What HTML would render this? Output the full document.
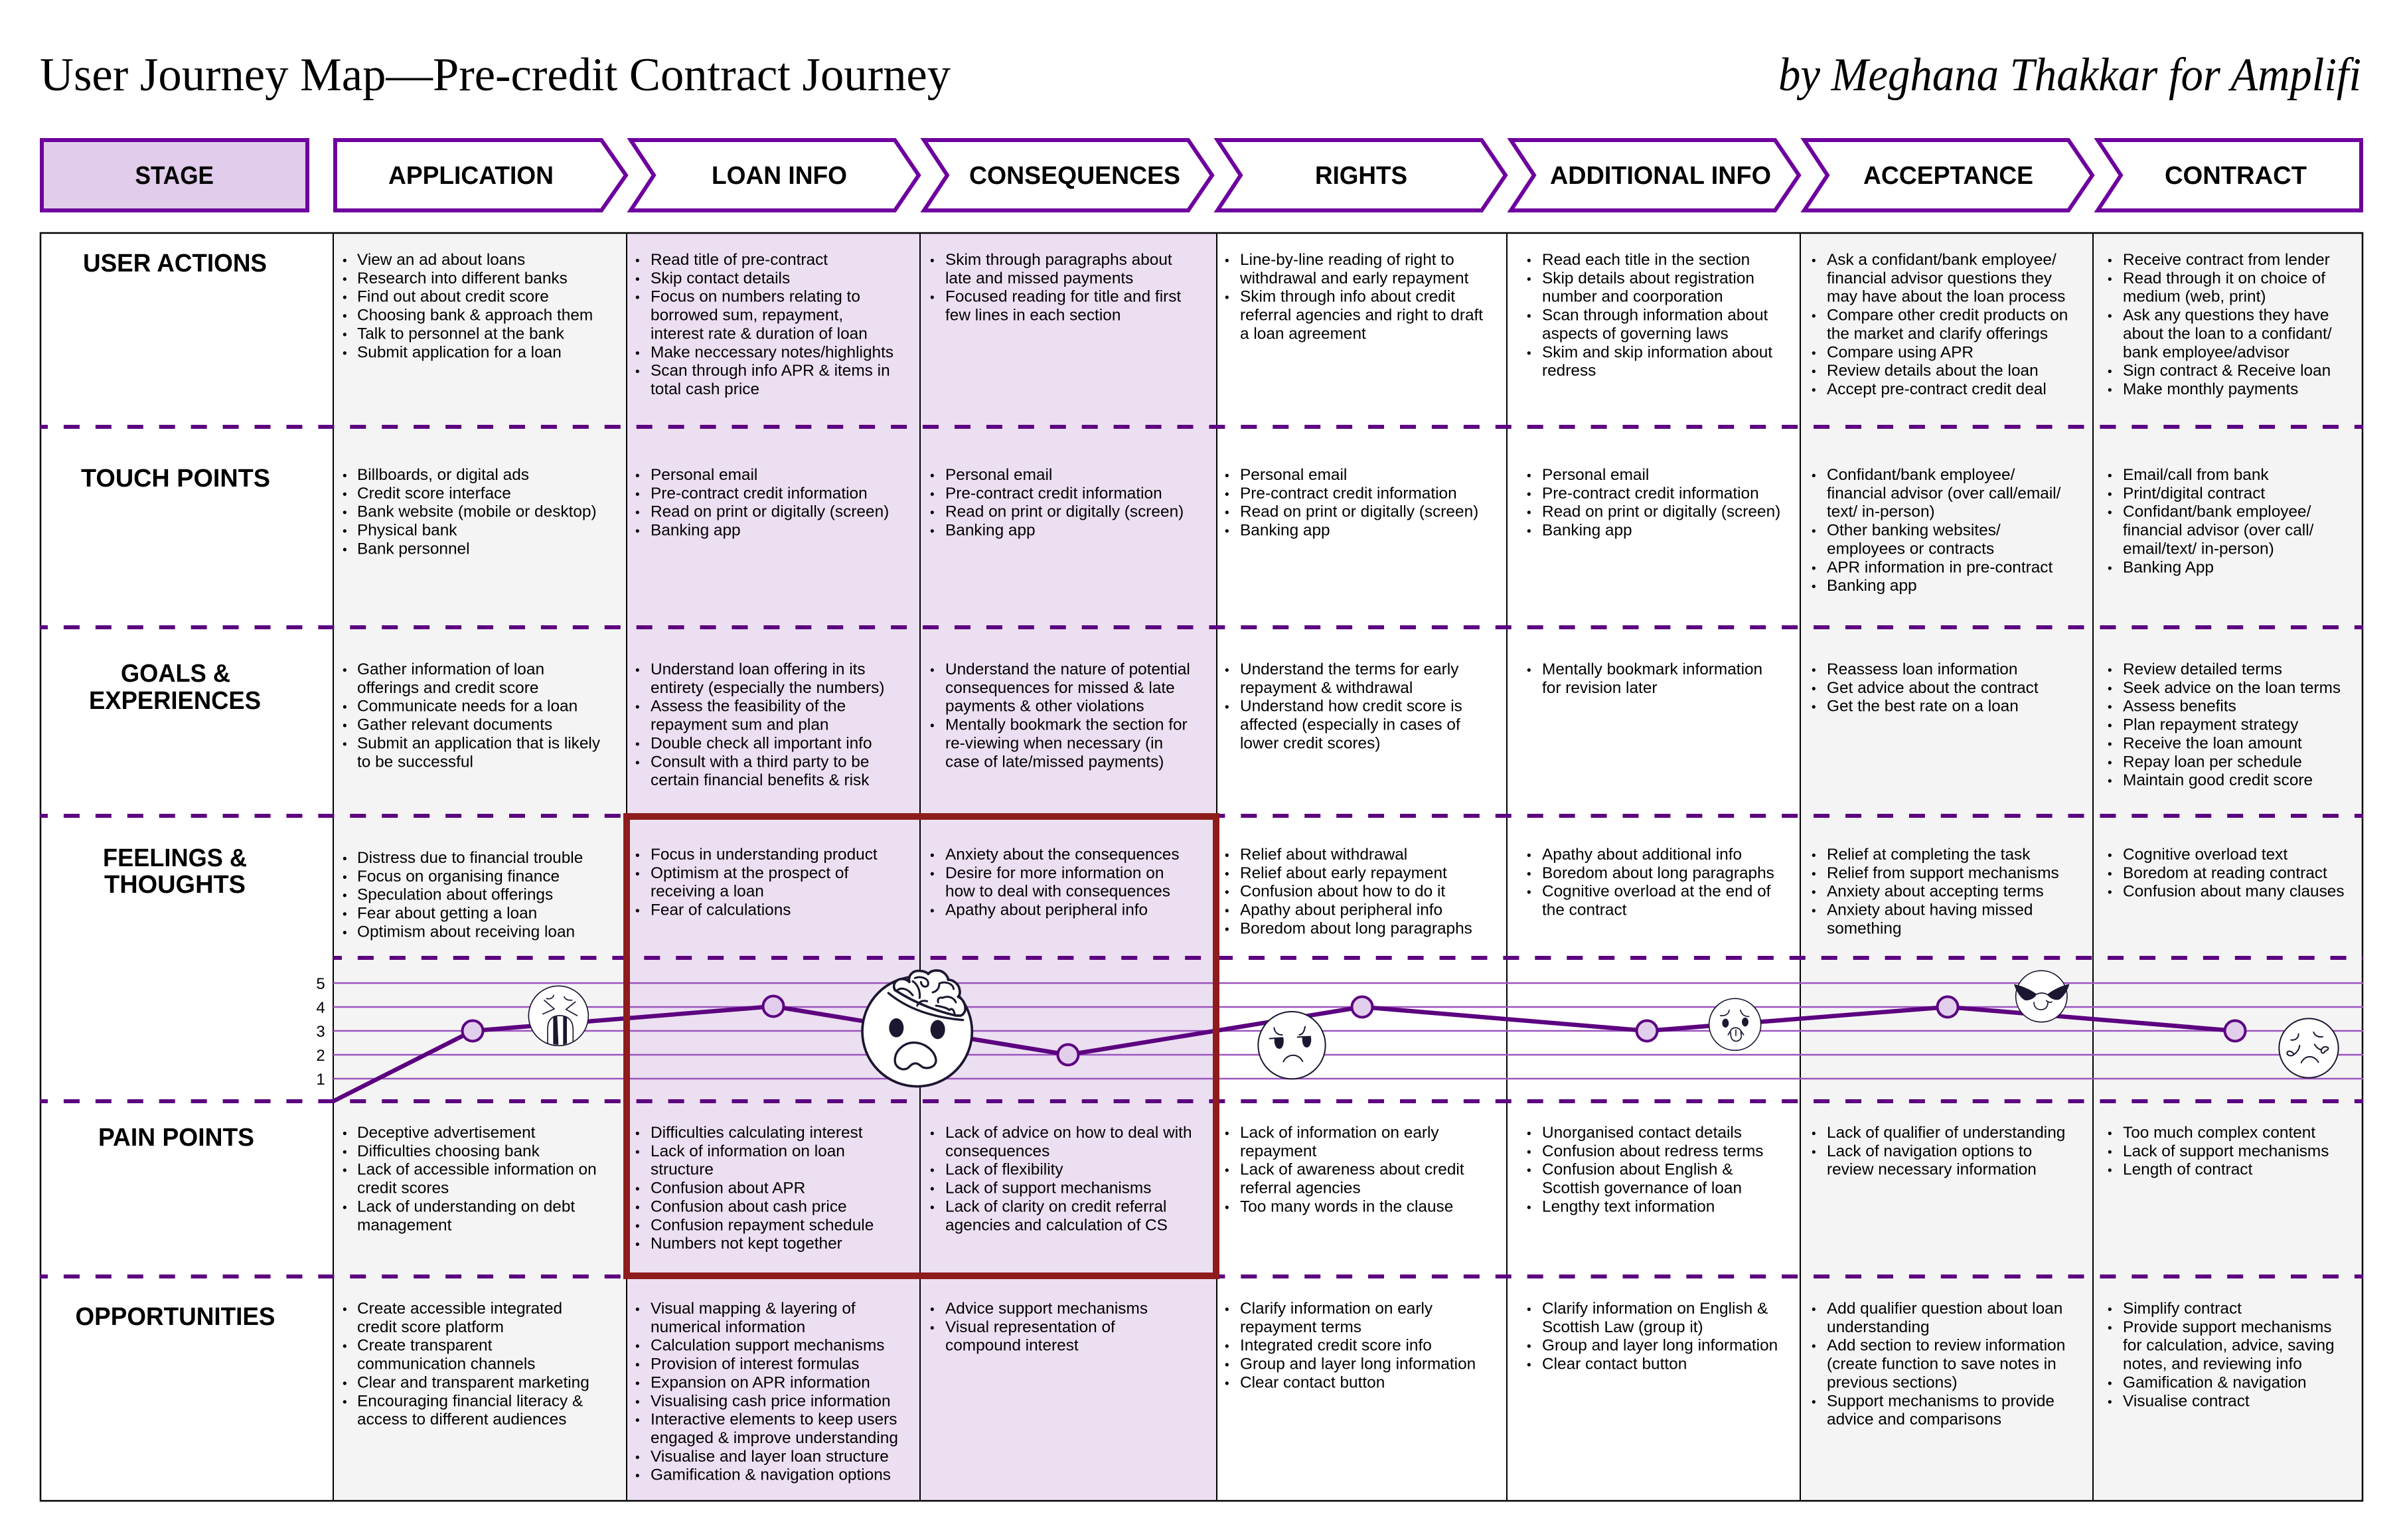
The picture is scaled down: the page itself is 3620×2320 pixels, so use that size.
<!DOCTYPE html>
<html lang="en"><head><meta charset="utf-8"><title>User Journey Map</title>
<style>
html,body{margin:0;padding:0;background:#fff;width:3620px;height:2320px;overflow:hidden}
svg{display:block}
text{font-family:"Liberation Sans",sans-serif;fill:#000}
.t{font-size:24.4px}
.t tspan[x="516"],.t tspan[x="957"],.t tspan[x="1401"],.t tspan[x="1845"],.t tspan[x="2300"],.t tspan[x="2729"],.t tspan[x="3175"]{font-size:19px}
.h{font-size:38px;font-weight:bold}
.s{font-size:71px;font-family:"Liberation Serif",serif}
.n{font-size:24px}
.d{fill:none;stroke:#5c0080;stroke-width:6;stroke-dasharray:24 23.93}
.c{fill:#fff;stroke:#6e009e;stroke-width:6;stroke-miterlimit:10}
.g{stroke:#9c55bf;stroke-width:2.4}
.f{fill:none;stroke:#1c1630;stroke-linecap:round;stroke-linejoin:round}
.k{fill:#1c1630;stroke:none}
.w{fill:#fff}
.o{fill:#e1cdec;stroke:#5c0080;stroke-width:4}
</style></head><body>
<svg xmlns="http://www.w3.org/2000/svg" width="3620" height="2320" viewBox="0 0 3620 2320">
<rect width="3620" height="2320" fill="#fff"/>
<text class="s" x="60" y="136" textLength="1372" lengthAdjust="spacingAndGlyphs">User Journey Map—Pre-credit Contract Journey</text>
<text class="s" x="2679" y="136" textLength="878" lengthAdjust="spacingAndGlyphs" font-style="italic">by Meghana Thakkar for Amplifi</text>

<!-- stage header -->
<rect x="63" y="211" width="400" height="106" fill="#e1cdeb" stroke="#6e009e" stroke-width="6"/>
<polygon class="c" points="505,211 906,211 943,264 906,317 505,317"/>
<polygon class="c" points="950,211 1348,211 1384,264 1348,317 950,317 985,264"/>
<polygon class="c" points="1392,211 1790,211 1826,264 1790,317 1392,317 1427,264"/>
<polygon class="c" points="1834,211 2232,211 2268,264 2232,317 1834,317 1869,264"/>
<polygon class="c" points="2276,211 2674,211 2710,264 2674,317 2276,317 2311,264"/>
<polygon class="c" points="2718,211 3116,211 3152,264 3116,317 2718,317 2753,264"/>
<polygon class="c" points="3160,211 3557,211 3557,317 3160,317 3195,264"/>
<g class="h" transform="translate(0,-1)">
<text x="203.5" y="278" textLength="118.5" lengthAdjust="spacingAndGlyphs">STAGE</text>
<text x="585" y="278" textLength="249" lengthAdjust="spacingAndGlyphs">APPLICATION</text>
<text x="1072" y="278" textLength="204" lengthAdjust="spacingAndGlyphs">LOAN INFO</text>
<text x="1460" y="278" textLength="318" lengthAdjust="spacingAndGlyphs">CONSEQUENCES</text>
<text x="1981" y="278" textLength="139" lengthAdjust="spacingAndGlyphs">RIGHTS</text>
<text x="2335" y="278" textLength="333" lengthAdjust="spacingAndGlyphs">ADDITIONAL INFO</text>
<text x="2807" y="278" textLength="256" lengthAdjust="spacingAndGlyphs">ACCEPTANCE</text>
<text x="3261" y="278" textLength="214" lengthAdjust="spacingAndGlyphs">CONTRACT</text>
</g>

<!-- table backgrounds -->
<rect x="502" y="350" width="442" height="1911" fill="#f4f4f4"/>
<rect x="944" y="350" width="888" height="1911" fill="#ecdff1"/>
<rect x="2712" y="350" width="848" height="1911" fill="#f4f4f4"/>
<!-- grid lines -->
<g stroke="#000" stroke-width="2">
<line x1="502" y1="350" x2="502" y2="2261"/><line x1="944" y1="350" x2="944" y2="2261"/><line x1="1386" y1="350" x2="1386" y2="2261"/><line x1="1833" y1="350" x2="1833" y2="2261"/><line x1="2270" y1="350" x2="2270" y2="2261"/><line x1="2712" y1="350" x2="2712" y2="2261"/><line x1="3153" y1="350" x2="3153" y2="2261"/>
</g>
<rect x="61" y="351" width="3498" height="1910" fill="none" stroke="#000" stroke-width="2.5"/>
<!-- dashed -->
<line class="d" x1="60" y1="643" x2="3560" y2="643" stroke-dashoffset="12"/>
<line class="d" x1="60" y1="945" x2="3560" y2="945" stroke-dashoffset="12"/>
<line class="d" x1="60" y1="1229" x2="3560" y2="1229" stroke-dashoffset="12"/>
<line class="d" x1="502" y1="1443" x2="3560" y2="1443" stroke-dashoffset="11"/>
<line class="d" x1="60" y1="1659" x2="3560" y2="1659" stroke-dashoffset="12"/>
<line class="d" x1="60" y1="1923" x2="3560" y2="1923" stroke-dashoffset="12"/>
<!-- chart -->
<g class="g"><line x1="502" y1="1481" x2="3560" y2="1481"/><line x1="502" y1="1517" x2="3560" y2="1517"/><line x1="502" y1="1553" x2="3560" y2="1553"/><line x1="502" y1="1589" x2="3560" y2="1589"/><line x1="502" y1="1625" x2="3560" y2="1625"/></g>
<g class="n" text-anchor="middle"><text x="483" y="1490">5</text><text x="483" y="1526">4</text><text x="483" y="1562">3</text><text x="483" y="1598">2</text><text x="483" y="1634">1</text></g>
<polyline points="502,1659 712,1553 1165,1516 1609,1589 2052,1517 2481,1553 2934,1517 3367,1553" fill="none" stroke="#5c0080" stroke-width="6.5"/>
<circle class="o" cx="712" cy="1553" r="15.5"/><circle class="o" cx="1165" cy="1516" r="15.5"/><circle class="o" cx="1609" cy="1589" r="15.5"/><circle class="o" cx="2052" cy="1517" r="15.5"/><circle class="o" cx="2481" cy="1553" r="15.5"/><circle class="o" cx="2934" cy="1517" r="15.5"/><circle class="o" cx="3367" cy="1553" r="15.5"/>

<!-- row headers -->
<g class="h" transform="translate(0,-2)">
<text x="125" y="411" textLength="277" lengthAdjust="spacingAndGlyphs">USER ACTIONS</text>
<text x="122" y="735" textLength="285" lengthAdjust="spacingAndGlyphs">TOUCH POINTS</text>
<text x="182" y="1029" textLength="165" lengthAdjust="spacingAndGlyphs">GOALS &amp;</text>
<text x="134" y="1070" textLength="259" lengthAdjust="spacingAndGlyphs">EXPERIENCES</text>
<text x="155" y="1307" textLength="217" lengthAdjust="spacingAndGlyphs">FEELINGS &amp;</text>
<text x="157" y="1347" textLength="213" lengthAdjust="spacingAndGlyphs">THOUGHTS</text>
<text x="148" y="1728" textLength="235" lengthAdjust="spacingAndGlyphs">PAIN POINTS</text>
<text x="113.5" y="1998" textLength="301" lengthAdjust="spacingAndGlyphs">OPPORTUNITIES</text>
</g>

<g class="t" transform="translate(0,1)">
<!-- column 1 -->
<text y="370.15"><tspan x="516" dy="27.85">•</tspan><tspan x="538">View an ad about loans</tspan><tspan x="516" dy="27.85">•</tspan><tspan x="538">Research into different banks</tspan><tspan x="516" dy="27.85">•</tspan><tspan x="538">Find out about credit score</tspan><tspan x="516" dy="27.85">•</tspan><tspan x="538">Choosing bank &amp; approach them</tspan><tspan x="516" dy="27.85">•</tspan><tspan x="538">Talk to personnel at the bank</tspan><tspan x="516" dy="27.85">•</tspan><tspan x="538">Submit application for a loan</tspan></text>
<text y="694.15"><tspan x="516" dy="27.85">•</tspan><tspan x="538">Billboards, or digital ads</tspan><tspan x="516" dy="27.85">•</tspan><tspan x="538">Credit score interface</tspan><tspan x="516" dy="27.85">•</tspan><tspan x="538">Bank website (mobile or desktop)</tspan><tspan x="516" dy="27.85">•</tspan><tspan x="538">Physical bank</tspan><tspan x="516" dy="27.85">•</tspan><tspan x="538">Bank personnel</tspan></text>
<text y="987.15"><tspan x="516" dy="27.85">•</tspan><tspan x="538">Gather information of loan</tspan><tspan x="538" dy="27.85">offerings and credit score</tspan><tspan x="516" dy="27.85">•</tspan><tspan x="538">Communicate needs for a loan</tspan><tspan x="516" dy="27.85">•</tspan><tspan x="538">Gather relevant documents</tspan><tspan x="516" dy="27.85">•</tspan><tspan x="538">Submit an application that is likely</tspan><tspan x="538" dy="27.85">to be successful</tspan></text>
<text y="1271.15"><tspan x="516" dy="27.85">•</tspan><tspan x="538">Distress due to financial trouble</tspan><tspan x="516" dy="27.85">•</tspan><tspan x="538">Focus on organising finance</tspan><tspan x="516" dy="27.85">•</tspan><tspan x="538">Speculation about offerings</tspan><tspan x="516" dy="27.85">•</tspan><tspan x="538">Fear about getting a loan</tspan><tspan x="516" dy="27.85">•</tspan><tspan x="538">Optimism about receiving loan</tspan></text>
<text y="1685.15"><tspan x="516" dy="27.85">•</tspan><tspan x="538">Deceptive advertisement</tspan><tspan x="516" dy="27.85">•</tspan><tspan x="538">Difficulties choosing bank</tspan><tspan x="516" dy="27.85">•</tspan><tspan x="538">Lack of accessible information on</tspan><tspan x="538" dy="27.85">credit scores</tspan><tspan x="516" dy="27.85">•</tspan><tspan x="538">Lack of understanding on debt</tspan><tspan x="538" dy="27.85">management</tspan></text>
<text y="1950.15"><tspan x="516" dy="27.85">•</tspan><tspan x="538">Create accessible integrated</tspan><tspan x="538" dy="27.85">credit score platform</tspan><tspan x="516" dy="27.85">•</tspan><tspan x="538">Create transparent</tspan><tspan x="538" dy="27.85">communication channels</tspan><tspan x="516" dy="27.85">•</tspan><tspan x="538">Clear and transparent marketing</tspan><tspan x="516" dy="27.85">•</tspan><tspan x="538">Encouraging financial literacy &amp;</tspan><tspan x="538" dy="27.85">access to different audiences</tspan></text>
<!-- column 2 -->
<text y="370.15"><tspan x="957" dy="27.85">•</tspan><tspan x="980">Read title of pre-contract</tspan><tspan x="957" dy="27.85">•</tspan><tspan x="980">Skip contact details</tspan><tspan x="957" dy="27.85">•</tspan><tspan x="980">Focus on numbers relating to</tspan><tspan x="980" dy="27.85">borrowed sum, repayment,</tspan><tspan x="980" dy="27.85">interest rate &amp; duration of loan</tspan><tspan x="957" dy="27.85">•</tspan><tspan x="980">Make neccessary notes/highlights</tspan><tspan x="957" dy="27.85">•</tspan><tspan x="980">Scan through info APR &amp; items in</tspan><tspan x="980" dy="27.85">total cash price</tspan></text>
<text y="694.15"><tspan x="957" dy="27.85">•</tspan><tspan x="980">Personal email</tspan><tspan x="957" dy="27.85">•</tspan><tspan x="980">Pre-contract credit information</tspan><tspan x="957" dy="27.85">•</tspan><tspan x="980">Read on print or digitally (screen)</tspan><tspan x="957" dy="27.85">•</tspan><tspan x="980">Banking app</tspan></text>
<text y="987.15"><tspan x="957" dy="27.85">•</tspan><tspan x="980">Understand loan offering in its</tspan><tspan x="980" dy="27.85">entirety (especially the numbers)</tspan><tspan x="957" dy="27.85">•</tspan><tspan x="980">Assess the feasibility of the</tspan><tspan x="980" dy="27.85">repayment sum and plan</tspan><tspan x="957" dy="27.85">•</tspan><tspan x="980">Double check all important info</tspan><tspan x="957" dy="27.85">•</tspan><tspan x="980">Consult with a third party to be</tspan><tspan x="980" dy="27.85">certain financial benefits &amp; risk</tspan></text>
<text y="1266.15"><tspan x="957" dy="27.85">•</tspan><tspan x="980">Focus in understanding product</tspan><tspan x="957" dy="27.85">•</tspan><tspan x="980">Optimism at the prospect of</tspan><tspan x="980" dy="27.85">receiving a loan</tspan><tspan x="957" dy="27.85">•</tspan><tspan x="980">Fear of calculations</tspan></text>
<text y="1685.15"><tspan x="957" dy="27.85">•</tspan><tspan x="980">Difficulties calculating interest</tspan><tspan x="957" dy="27.85">•</tspan><tspan x="980">Lack of information on loan</tspan><tspan x="980" dy="27.85">structure</tspan><tspan x="957" dy="27.85">•</tspan><tspan x="980">Confusion about APR</tspan><tspan x="957" dy="27.85">•</tspan><tspan x="980">Confusion about cash price</tspan><tspan x="957" dy="27.85">•</tspan><tspan x="980">Confusion repayment schedule</tspan><tspan x="957" dy="27.85">•</tspan><tspan x="980">Numbers not kept together</tspan></text>
<text y="1950.15"><tspan x="957" dy="27.85">•</tspan><tspan x="980">Visual mapping &amp; layering  of</tspan><tspan x="980" dy="27.85">numerical information</tspan><tspan x="957" dy="27.85">•</tspan><tspan x="980">Calculation support mechanisms</tspan><tspan x="957" dy="27.85">•</tspan><tspan x="980">Provision of interest formulas</tspan><tspan x="957" dy="27.85">•</tspan><tspan x="980">Expansion on APR information</tspan><tspan x="957" dy="27.85">•</tspan><tspan x="980">Visualising cash price information</tspan><tspan x="957" dy="27.85">•</tspan><tspan x="980">Interactive elements to keep users</tspan><tspan x="980" dy="27.85">engaged &amp; improve understanding</tspan><tspan x="957" dy="27.85">•</tspan><tspan x="980">Visualise and layer loan structure</tspan><tspan x="957" dy="27.85">•</tspan><tspan x="980">Gamification &amp; navigation options</tspan></text>
<!-- column 3 -->
<text y="370.15"><tspan x="1401" dy="27.85">•</tspan><tspan x="1424">Skim through paragraphs about</tspan><tspan x="1424" dy="27.85">late and missed payments</tspan><tspan x="1401" dy="27.85">•</tspan><tspan x="1424">Focused reading for title and first</tspan><tspan x="1424" dy="27.85">few lines in each section</tspan></text>
<text y="694.15"><tspan x="1401" dy="27.85">•</tspan><tspan x="1424">Personal email</tspan><tspan x="1401" dy="27.85">•</tspan><tspan x="1424">Pre-contract credit information</tspan><tspan x="1401" dy="27.85">•</tspan><tspan x="1424">Read on print or digitally (screen)</tspan><tspan x="1401" dy="27.85">•</tspan><tspan x="1424">Banking app</tspan></text>
<text y="987.15"><tspan x="1401" dy="27.85">•</tspan><tspan x="1424">Understand the nature of potential</tspan><tspan x="1424" dy="27.85">consequences for missed &amp; late</tspan><tspan x="1424" dy="27.85">payments &amp; other violations</tspan><tspan x="1401" dy="27.85">•</tspan><tspan x="1424">Mentally bookmark the section for</tspan><tspan x="1424" dy="27.85">re-viewing when necessary (in</tspan><tspan x="1424" dy="27.85">case of late/missed payments)</tspan></text>
<text y="1266.15"><tspan x="1401" dy="27.85">•</tspan><tspan x="1424">Anxiety about the consequences</tspan><tspan x="1401" dy="27.85">•</tspan><tspan x="1424">Desire for more information on</tspan><tspan x="1424" dy="27.85">how to deal with consequences</tspan><tspan x="1401" dy="27.85">•</tspan><tspan x="1424">Apathy about peripheral info</tspan></text>
<text y="1685.15"><tspan x="1401" dy="27.85">•</tspan><tspan x="1424">Lack of advice on how to deal with</tspan><tspan x="1424" dy="27.85">consequences</tspan><tspan x="1401" dy="27.85">•</tspan><tspan x="1424">Lack of flexibility</tspan><tspan x="1401" dy="27.85">•</tspan><tspan x="1424">Lack of support mechanisms</tspan><tspan x="1401" dy="27.85">•</tspan><tspan x="1424">Lack of clarity on credit referral</tspan><tspan x="1424" dy="27.85">agencies and calculation of CS</tspan></text>
<text y="1950.15"><tspan x="1401" dy="27.85">•</tspan><tspan x="1424">Advice support mechanisms</tspan><tspan x="1401" dy="27.85">•</tspan><tspan x="1424">Visual representation of</tspan><tspan x="1424" dy="27.85">compound interest</tspan></text>
<!-- column 4 -->
<text y="370.15"><tspan x="1845" dy="27.85">•</tspan><tspan x="1868">Line-by-line reading of right to</tspan><tspan x="1868" dy="27.85">withdrawal and early repayment</tspan><tspan x="1845" dy="27.85">•</tspan><tspan x="1868">Skim through info about credit</tspan><tspan x="1868" dy="27.85">referral agencies and right to draft</tspan><tspan x="1868" dy="27.85">a loan agreement</tspan></text>
<text y="694.15"><tspan x="1845" dy="27.85">•</tspan><tspan x="1868">Personal email</tspan><tspan x="1845" dy="27.85">•</tspan><tspan x="1868">Pre-contract credit information</tspan><tspan x="1845" dy="27.85">•</tspan><tspan x="1868">Read on print or digitally (screen)</tspan><tspan x="1845" dy="27.85">•</tspan><tspan x="1868">Banking app</tspan></text>
<text y="987.15"><tspan x="1845" dy="27.85">•</tspan><tspan x="1868">Understand the terms for early</tspan><tspan x="1868" dy="27.85">repayment &amp; withdrawal</tspan><tspan x="1845" dy="27.85">•</tspan><tspan x="1868">Understand how credit score is</tspan><tspan x="1868" dy="27.85">affected (especially in cases of</tspan><tspan x="1868" dy="27.85">lower credit scores)</tspan></text>
<text y="1266.15"><tspan x="1845" dy="27.85">•</tspan><tspan x="1868">Relief about withdrawal</tspan><tspan x="1845" dy="27.85">•</tspan><tspan x="1868">Relief about early repayment</tspan><tspan x="1845" dy="27.85">•</tspan><tspan x="1868">Confusion about how to do it</tspan><tspan x="1845" dy="27.85">•</tspan><tspan x="1868">Apathy about peripheral info</tspan><tspan x="1845" dy="27.85">•</tspan><tspan x="1868">Boredom about long paragraphs</tspan></text>
<text y="1685.15"><tspan x="1845" dy="27.85">•</tspan><tspan x="1868">Lack of information on early</tspan><tspan x="1868" dy="27.85">repayment</tspan><tspan x="1845" dy="27.85">•</tspan><tspan x="1868">Lack of awareness about credit</tspan><tspan x="1868" dy="27.85">referral agencies</tspan><tspan x="1845" dy="27.85">•</tspan><tspan x="1868">Too many words in the clause</tspan></text>
<text y="1950.15"><tspan x="1845" dy="27.85">•</tspan><tspan x="1868">Clarify information on early</tspan><tspan x="1868" dy="27.85">repayment terms</tspan><tspan x="1845" dy="27.85">•</tspan><tspan x="1868">Integrated credit score info</tspan><tspan x="1845" dy="27.85">•</tspan><tspan x="1868">Group and layer long information</tspan><tspan x="1845" dy="27.85">•</tspan><tspan x="1868">Clear contact button</tspan></text>
<!-- column 5 -->
<text y="370.15"><tspan x="2300" dy="27.85">•</tspan><tspan x="2323">Read each title in the section</tspan><tspan x="2300" dy="27.85">•</tspan><tspan x="2323">Skip details about registration</tspan><tspan x="2323" dy="27.85">number and coorporation</tspan><tspan x="2300" dy="27.85">•</tspan><tspan x="2323">Scan through information about</tspan><tspan x="2323" dy="27.85">aspects of governing laws</tspan><tspan x="2300" dy="27.85">•</tspan><tspan x="2323">Skim and skip information about</tspan><tspan x="2323" dy="27.85">redress</tspan></text>
<text y="694.15"><tspan x="2300" dy="27.85">•</tspan><tspan x="2323">Personal email</tspan><tspan x="2300" dy="27.85">•</tspan><tspan x="2323">Pre-contract credit information</tspan><tspan x="2300" dy="27.85">•</tspan><tspan x="2323">Read on print or digitally (screen)</tspan><tspan x="2300" dy="27.85">•</tspan><tspan x="2323">Banking app</tspan></text>
<text y="987.15"><tspan x="2300" dy="27.85">•</tspan><tspan x="2323">Mentally bookmark information</tspan><tspan x="2323" dy="27.85">for revision later</tspan></text>
<text y="1266.15"><tspan x="2300" dy="27.85">•</tspan><tspan x="2323">Apathy about additional info</tspan><tspan x="2300" dy="27.85">•</tspan><tspan x="2323">Boredom about long paragraphs</tspan><tspan x="2300" dy="27.85">•</tspan><tspan x="2323">Cognitive overload at the end of</tspan><tspan x="2323" dy="27.85">the contract</tspan></text>
<text y="1685.15"><tspan x="2300" dy="27.85">•</tspan><tspan x="2323">Unorganised contact details</tspan><tspan x="2300" dy="27.85">•</tspan><tspan x="2323">Confusion about redress terms</tspan><tspan x="2300" dy="27.85">•</tspan><tspan x="2323">Confusion about English &amp;</tspan><tspan x="2323" dy="27.85">Scottish governance of loan</tspan><tspan x="2300" dy="27.85">•</tspan><tspan x="2323">Lengthy text information</tspan></text>
<text y="1950.15"><tspan x="2300" dy="27.85">•</tspan><tspan x="2323">Clarify information on English &amp;</tspan><tspan x="2323" dy="27.85">Scottish Law (group it)</tspan><tspan x="2300" dy="27.85">•</tspan><tspan x="2323">Group and layer long information</tspan><tspan x="2300" dy="27.85">•</tspan><tspan x="2323">Clear contact button</tspan></text>
<!-- column 6 -->
<text y="370.15"><tspan x="2729" dy="27.85">•</tspan><tspan x="2752">Ask a confidant/bank employee/</tspan><tspan x="2752" dy="27.85">financial advisor questions they</tspan><tspan x="2752" dy="27.85">may have about the loan process</tspan><tspan x="2729" dy="27.85">•</tspan><tspan x="2752">Compare other credit products on</tspan><tspan x="2752" dy="27.85">the market and clarify offerings</tspan><tspan x="2729" dy="27.85">•</tspan><tspan x="2752">Compare using APR</tspan><tspan x="2729" dy="27.85">•</tspan><tspan x="2752">Review details about the loan</tspan><tspan x="2729" dy="27.85">•</tspan><tspan x="2752">Accept pre-contract credit deal</tspan></text>
<text y="694.15"><tspan x="2729" dy="27.85">•</tspan><tspan x="2752">Confidant/bank employee/</tspan><tspan x="2752" dy="27.85">financial advisor (over call/email/</tspan><tspan x="2752" dy="27.85">text/ in-person)</tspan><tspan x="2729" dy="27.85">•</tspan><tspan x="2752">Other banking websites/</tspan><tspan x="2752" dy="27.85">employees or contracts</tspan><tspan x="2729" dy="27.85">•</tspan><tspan x="2752">APR information in pre-contract</tspan><tspan x="2729" dy="27.85">•</tspan><tspan x="2752">Banking app</tspan></text>
<text y="987.15"><tspan x="2729" dy="27.85">•</tspan><tspan x="2752">Reassess loan information</tspan><tspan x="2729" dy="27.85">•</tspan><tspan x="2752">Get advice about the contract</tspan><tspan x="2729" dy="27.85">•</tspan><tspan x="2752">Get the best rate on a loan</tspan></text>
<text y="1266.15"><tspan x="2729" dy="27.85">•</tspan><tspan x="2752">Relief at completing the task</tspan><tspan x="2729" dy="27.85">•</tspan><tspan x="2752">Relief from support mechanisms</tspan><tspan x="2729" dy="27.85">•</tspan><tspan x="2752">Anxiety about accepting terms</tspan><tspan x="2729" dy="27.85">•</tspan><tspan x="2752">Anxiety about having missed</tspan><tspan x="2752" dy="27.85">something</tspan></text>
<text y="1685.15"><tspan x="2729" dy="27.85">•</tspan><tspan x="2752">Lack of qualifier of understanding</tspan><tspan x="2729" dy="27.85">•</tspan><tspan x="2752">Lack of navigation options to</tspan><tspan x="2752" dy="27.85">review necessary information</tspan></text>
<text y="1950.15"><tspan x="2729" dy="27.85">•</tspan><tspan x="2752">Add qualifier question about loan</tspan><tspan x="2752" dy="27.85">understanding</tspan><tspan x="2729" dy="27.85">•</tspan><tspan x="2752">Add section to review information</tspan><tspan x="2752" dy="27.85">(create function to save notes in</tspan><tspan x="2752" dy="27.85">previous sections)</tspan><tspan x="2729" dy="27.85">•</tspan><tspan x="2752">Support mechanisms to provide</tspan><tspan x="2752" dy="27.85">advice and comparisons</tspan></text>
<!-- column 7 -->
<text y="370.15"><tspan x="3175" dy="27.85">•</tspan><tspan x="3198">Receive contract from lender</tspan><tspan x="3175" dy="27.85">•</tspan><tspan x="3198">Read through it on choice of</tspan><tspan x="3198" dy="27.85">medium (web, print)</tspan><tspan x="3175" dy="27.85">•</tspan><tspan x="3198">Ask any questions they have</tspan><tspan x="3198" dy="27.85">about the loan to a confidant/</tspan><tspan x="3198" dy="27.85">bank employee/advisor</tspan><tspan x="3175" dy="27.85">•</tspan><tspan x="3198">Sign contract &amp; Receive loan</tspan><tspan x="3175" dy="27.85">•</tspan><tspan x="3198">Make monthly payments</tspan></text>
<text y="694.15"><tspan x="3175" dy="27.85">•</tspan><tspan x="3198">Email/call from bank</tspan><tspan x="3175" dy="27.85">•</tspan><tspan x="3198">Print/digital contract</tspan><tspan x="3175" dy="27.85">•</tspan><tspan x="3198">Confidant/bank employee/</tspan><tspan x="3198" dy="27.85">financial advisor (over call/</tspan><tspan x="3198" dy="27.85">email/text/ in-person)</tspan><tspan x="3175" dy="27.85">•</tspan><tspan x="3198">Banking App</tspan></text>
<text y="987.15"><tspan x="3175" dy="27.85">•</tspan><tspan x="3198">Review detailed terms</tspan><tspan x="3175" dy="27.85">•</tspan><tspan x="3198">Seek advice on the loan terms</tspan><tspan x="3175" dy="27.85">•</tspan><tspan x="3198">Assess benefits</tspan><tspan x="3175" dy="27.85">•</tspan><tspan x="3198">Plan repayment strategy</tspan><tspan x="3175" dy="27.85">•</tspan><tspan x="3198">Receive the loan amount</tspan><tspan x="3175" dy="27.85">•</tspan><tspan x="3198">Repay loan per schedule</tspan><tspan x="3175" dy="27.85">•</tspan><tspan x="3198">Maintain good credit score</tspan></text>
<text y="1266.15"><tspan x="3175" dy="27.85">•</tspan><tspan x="3198">Cognitive overload text</tspan><tspan x="3175" dy="27.85">•</tspan><tspan x="3198">Boredom at reading contract</tspan><tspan x="3175" dy="27.85">•</tspan><tspan x="3198">Confusion about many clauses</tspan></text>
<text y="1685.15"><tspan x="3175" dy="27.85">•</tspan><tspan x="3198">Too much complex content</tspan><tspan x="3175" dy="27.85">•</tspan><tspan x="3198">Lack of support mechanisms</tspan><tspan x="3175" dy="27.85">•</tspan><tspan x="3198">Length of contract</tspan></text>
<text y="1950.15"><tspan x="3175" dy="27.85">•</tspan><tspan x="3198">Simplify contract</tspan><tspan x="3175" dy="27.85">•</tspan><tspan x="3198">Provide support mechanisms</tspan><tspan x="3198" dy="27.85">for calculation, advice, saving</tspan><tspan x="3198" dy="27.85">notes, and reviewing info</tspan><tspan x="3175" dy="27.85">•</tspan><tspan x="3198">Gamification &amp; navigation</tspan><tspan x="3175" dy="27.85">•</tspan><tspan x="3198">Visualise contract</tspan></text>
</g>

<!-- red highlight -->
<rect x="944" y="1230" width="888" height="692" fill="none" stroke="#8e1c1c" stroke-width="10"/>

<!-- brain face -->
<g transform="translate(1280,1440) scale(.33333)">
<circle class="f w" cx="305" cy="342" r="248" stroke-width="11"/>
<path class="f w" stroke-width="11" d="M205 155C190 130 210 100 245 105C258 108 266 114 270 118C262 90 285 65 315 68C335 68 350 75 355 82C370 62 410 60 430 80C440 90 445 100 445 108C470 108 495 130 497 155C500 170 495 180 490 185C515 195 525 225 522 245C518 262 505 272 495 270L480 270Q330 235 205 155Z"/>
<path class="f" stroke-width="10" d="M175 168Q300 272 512 290"/>
<path class="f" stroke-width="9" d="M215 155C235 140 265 150 285 178M295 100C320 90 355 100 355 125C355 145 325 145 322 118M285 115C310 130 320 165 316 190M375 165C395 160 405 145 405 125C425 115 465 120 470 150M305 225C315 205 330 200 350 205M400 210C395 195 405 185 420 190C440 180 470 185 480 210M390 225C420 230 440 235 450 245C460 235 470 240 475 265"/>
<ellipse class="k" cx="211" cy="325" rx="33" ry="43"/><ellipse class="k" cx="398" cy="333" rx="33" ry="43"/>
<path class="f" stroke-width="10" d="M290 392C340 392 385 430 390 470C392 505 345 515 325 500C305 482 290 480 270 500C250 525 210 510 205 480C200 430 245 392 290 392Z"/>
</g>
<!-- grimace -->
<g transform="translate(780,1470) scale(.33333)">
<circle class="f w" cx="184" cy="181" r="135" stroke-width="5"/>
<path class="f" stroke-width="5" d="M130 103C145 107 160 100 162 88M245 110C230 112 215 108 210 95M120 111L165 150L113 173M260 118L218 152L268 180"/>
<path class="k" d="M160 188L178 180L184 312L160 310ZM205 180L222 190L222 306L205 312Z"/>
<path class="f" stroke-width="5" d="M135 305L135 240C135 190 165 180 190 180C225 180 250 200 250 245L250 298"/>
</g>
<!-- angry -->
<g transform="translate(1880,1510) scale(.33333)">
<circle class="f w" cx="198" cy="194" r="152" stroke-width="6"/>
<path class="f" stroke-width="6" d="M118 115C120 135 135 148 155 147M258 110C255 130 247 145 232 147M98 164L157 160M224 157L282 155M160 268C175 235 225 225 247 267"/>
<path class="k" d="M120 165L160 160C165 190 155 212 140 210C125 208 117 185 120 165ZM246 157L284 155C290 180 280 204 266 204C250 204 243 180 246 157Z"/>
</g>
<!-- tongue -->
<g transform="translate(2560,1490) scale(.33333)">
<circle class="f w" cx="161" cy="160" r="117" stroke-width="5"/>
<path class="f" stroke-width="5" d="M95 120C115 122 133 115 135 95M186 95C190 115 205 125 224 124M140 190C150 170 175 170 187 188L190 215C185 240 150 245 143 215ZM165 185L165 210M130 207L140 190M200 207L187 188"/>
<ellipse class="k" cx="118" cy="154" rx="15" ry="20"/><ellipse class="k" cx="207" cy="149" rx="15" ry="20"/>
</g>
<!-- sunglasses -->
<g transform="translate(3020,1450) scale(.33333)">
<circle class="f w" cx="166" cy="153" r="116" stroke-width="5"/>
<path class="k" d="M42 98C80 105 120 125 145 143C135 165 105 175 90 170C70 160 50 125 42 98ZM292 97C255 105 215 125 192 145C205 165 235 175 250 165C270 150 287 120 292 97Z"/>
<path class="f" stroke-width="5" d="M145 143C160 136 180 136 192 145M132 180C132 205 150 215 168 213C190 210 195 195 195 180M188 172C195 180 205 182 213 178"/>
</g>
<!-- sad -->
<g transform="translate(3420,1525) scale(.33333)">
<circle class="f w" cx="174" cy="162" r="134" stroke-width="6"/>
<path class="f" stroke-width="6" d="M94 125C115 128 128 115 128 98M196 90C200 105 220 115 237 110M133 150C130 170 118 183 108 190C98 200 80 198 76 186C76 172 95 172 108 190M200 145C210 160 222 170 232 168C240 150 265 155 262 165C258 175 247 172 245 180C240 190 225 182 232 168M140 228C155 195 195 190 218 226"/>
</g>
</svg>
</body></html>
